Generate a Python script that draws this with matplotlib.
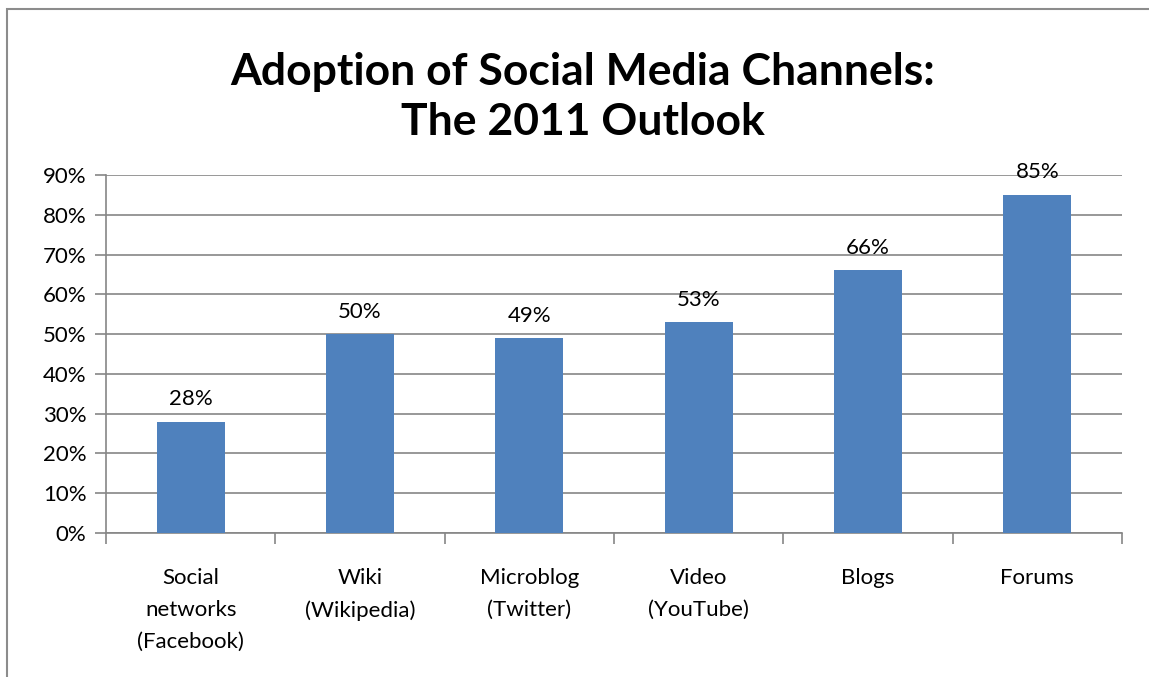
import matplotlib
matplotlib.use("Agg")
import matplotlib.pyplot as plt
from matplotlib.patches import Rectangle
from matplotlib.ticker import FixedLocator, PercentFormatter

categories = ["Social\nnetworks\n(Facebook)", "Wiki\n(Wikipedia)", "Microblog\n(Twitter)",
              "Video\n(YouTube)", "Blogs", "Forums"]
values = [28, 50, 49, 53, 66, 85]
value_labels = ["28%", "50%", "49%", "53%", "66%", "85%"]
yticks = [0, 10, 20, 30, 40, 50, 60, 70, 80, 90]

plt.rcParams['font.family'] = ['Lato', 'DejaVu Sans']

W, H = 1149, 677
fig = plt.figure(figsize=(W / 100, H / 100), dpi=100)

# chart border
fig.patches.append(Rectangle((7 / W, -0.1), 1.2, 1 - 9 / H + 0.1, transform=fig.transFigure,
                             fill=False, edgecolor="#8c8c8c", linewidth=1.5, zorder=0))

ax = fig.add_axes([106 / W, 1 - 533 / H, (1122 - 106) / W, (533 - 175) / H])
grid_c = "#868686"
x = list(range(len(categories)))
ax.bar(x, values, width=0.4, color="#4F81BD", zorder=3)
ax.set_xlim(-0.5, len(categories) - 0.5)
ax.set_ylim(0, 90)

ax.yaxis.set_major_locator(FixedLocator(yticks))
ax.yaxis.set_major_formatter(PercentFormatter(decimals=0))
ax.grid(axis="y", color=grid_c, linewidth=1.2, zorder=0)
for s in ["top", "right"]:
    ax.spines[s].set_visible(False)
for s in ["left", "bottom"]:
    ax.spines[s].set_color(grid_c)
    ax.spines[s].set_linewidth(1.2)

ax.tick_params(axis="y", length=8, width=1.2, color=grid_c, labelsize=16, pad=6)
ax.set_xticks([i - 0.5 for i in range(len(categories) + 1)])
ax.set_xticklabels([])
ax.tick_params(axis="x", which="major", length=8, width=1.2, color=grid_c)
ax.set_xticks(x, minor=True)
ax.set_xticklabels(categories, minor=True, fontsize=16, linespacing=1.75, va="top")
ax.tick_params(axis="x", which="minor", length=0, pad=25)

for xi, v, lab in zip(x, values, value_labels):
    ax.annotate(lab, (xi, v), xytext=(0, 9), textcoords="offset points",
                ha="center", va="bottom", fontsize=16)

fig.text(583 / W, 1 - 97 / H, "Adoption of Social Media Channels:\nThe 2011 Outlook",
         ha="center", va="center", fontsize=32, fontweight="bold", linespacing=1.32)

fig.savefig("out.png", dpi=100)
